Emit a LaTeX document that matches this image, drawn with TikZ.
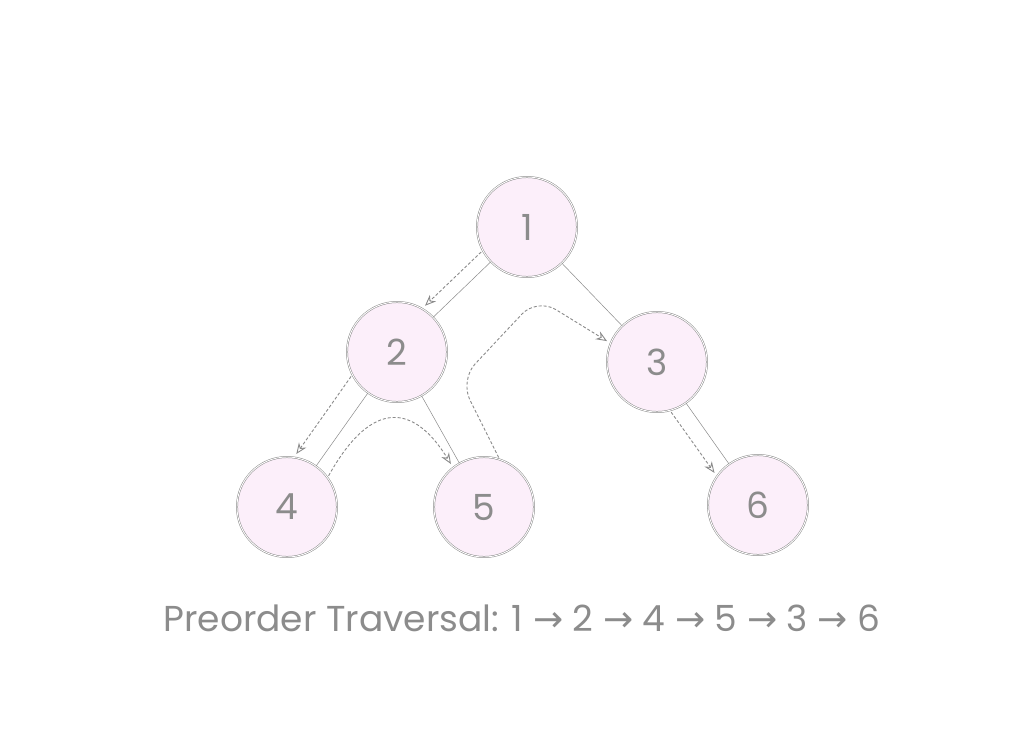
\documentclass[tikz,border=0pt]{standalone}
\usepackage{fontspec}
\setmainfont{Poppins}
\newfontfamily\symfont{DejaVu Sans}
\usetikzlibrary{arrows.meta}
\definecolor{nodepink}{HTML}{FCEFFA}
\definecolor{linegray}{HTML}{8A8A8A}

\begin{document}
\begin{tikzpicture}[x=1pt,y=-1pt,
		vert/.style={circle,minimum size=100pt,inner sep=0pt,fill=nodepink,draw=linegray,double=white,double distance=0.9pt,line width=0.5pt,font=\fontsize{36}{40}\selectfont,text=black!45},
		tree/.style={draw=linegray,double=white,double distance=1.1pt,line width=0.5pt},
		trav/.style={draw=linegray,dashed,line width=0.9pt,dash pattern=on 3pt off 2pt,-{Stealth[open,length=11pt,width=9pt]},shorten >=4pt,shorten <=2pt}]
				\useasboundingbox (0,0) rectangle (1024,732);
				\node[vert] (A) at (527,227) {1};
				\node[vert] (B) at (397,352) {2};
				\node[vert] (C) at (657,362) {3};
				\node[vert] (D) at (287,507) {4};
				\node[vert] (E) at (484,507) {5};
				\node[vert] (F) at (758,505) {6};
				\node[font=\fontsize{36}{40}\selectfont,text=black!45] (T) at (522,618) {Preorder Traversal: 1 {\symfont→} 2 {\symfont→} 4 {\symfont→} 5 {\symfont→} 3 {\symfont→} 6};

				\path [tree] (A) edge (B);
				\path [tree] (A) edge (C);
				\path [tree] (B) edge (D);
				\path [tree] (B) edge (E);
				\path [tree] (C) edge (F);

				\draw [trav] (A.208) -- (B.60);
				\draw [trav] (B.207) -- (D.82);
				\draw [trav] (D.36) .. controls (368,405) and (410,398) .. (E.128);
				\draw [trav,rounded corners=22pt] (E.72) -- (460,380) -- (537,298) -- (C.158);
				\draw [trav] (C.285) -- (F.145);
			\end{tikzpicture}
\end{document}
